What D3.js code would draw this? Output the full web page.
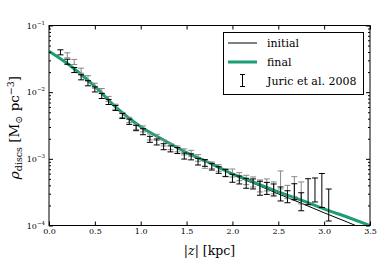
<!DOCTYPE html>
<html>
<head>
<meta charset="utf-8">
<script src="https://cdn.jsdelivr.net/npm/d3@7"></script>
<style>
  body { margin: 0; background: #fff; }
  svg { display: block; }
</style>
</head>
<body>
<div id="chart"></div>
<script>
// model curves (z in kpc, density in Msun pc^-3)
const curveZ = [0.0, 0.25, 0.5, 0.75, 1.0, 1.25, 1.5, 1.75, 2.0, 2.25, 2.5, 2.75, 3.0, 3.25, 3.5]
const finalRho = [0.0411, 0.0239, 0.0122, 0.00561, 0.00302, 0.00192, 0.00124, 0.000871, 0.000595, 0.000437, 0.000319, 0.000241, 0.000177, 0.000134, 0.0001]
const initialRho = [0.0411, 0.0239, 0.0122, 0.00561, 0.00302, 0.00192, 0.00124, 0.000868, 0.000582, 0.000417, 0.000298, 0.000216, 0.000155, 0.000113, 0.0000813]

// Juric et al. 2008 points, two interleaved sets
const juricZ = [0.125, 0.2, 0.275, 0.35, 0.425, 0.5, 0.575, 0.65, 0.725, 0.8, 0.875, 0.95, 1.025, 1.1, 1.175, 1.25, 1.325, 1.4, 1.475, 1.55, 1.625, 1.7, 1.775, 1.85, 1.925, 2.0, 2.075, 2.15, 2.225, 2.3, 2.375, 2.45, 2.525, 2.6, 2.675, 2.75, 2.825, 2.9, 2.975, 3.05]
const juricRhoA = [0.0396, 0.0286, 0.0215, 0.0167, 0.0136, 0.0110, 0.00877, 0.00713, 0.00579, 0.00440, 0.00360, 0.00290, 0.00255, 0.00196, 0.00179, 0.00152, 0.00141, 0.00133, 0.00110, 0.00107, 0.000906, 0.000867, 0.000762, 0.000680, 0.000613, 0.000511, 0.000482, 0.000430, 0.000420, 0.000362, 0.000360, 0.000341, 0.000297, 0.000270, 0.000321, 0.000227, 0.000321, 0.000341, 0.000335, 0.000203]
const juricErrA = [0.038, 0.038, 0.038, 0.038, 0.038, 0.038, 0.038, 0.038, 0.038, 0.038, 0.04, 0.04, 0.045, 0.045, 0.045, 0.045, 0.045, 0.045, 0.045, 0.045, 0.05, 0.05, 0.05, 0.05, 0.055, 0.06, 0.06, 0.075, 0.075, 0.105, 0.09, 0.09, 0.105, 0.09, 0.12, 0.135, 0.195, 0.18, 0.255, 0.24]
const juricZB = juricZ.slice(1, 36)
const juricRhoB = [0.0357, 0.0284, 0.0210, 0.0162, 0.0125, 0.0104, 0.00791, 0.00605, 0.00455, 0.00383, 0.00303, 0.00281, 0.00213, 0.00210, 0.00173, 0.00152, 0.00141, 0.00127, 0.00121, 0.00103, 0.000809, 0.000800, 0.000730, 0.000620, 0.000613, 0.000540, 0.000482, 0.000450, 0.000392, 0.000406, 0.000366, 0.000482, 0.000318, 0.000382, 0.000308]
const juricErrB = [0.038, 0.038, 0.038, 0.038, 0.038, 0.038, 0.038, 0.038, 0.038, 0.04, 0.04, 0.045, 0.045, 0.045, 0.045, 0.045, 0.045, 0.045, 0.045, 0.05, 0.05, 0.05, 0.05, 0.055, 0.06, 0.06, 0.07, 0.075, 0.09, 0.09, 0.09, 0.135, 0.1, 0.15, 0.165]

const xTicks = [0, 0.5, 1.0, 1.5, 2.0, 2.5, 3.0, 3.5]
const yTicks = [1e-4, 1e-3, 1e-2, 1e-1]
const yTickExp = ['−4', '−3', '−2', '−1']
const legendLabels = ['initial', 'final', 'Juric et al. 2008']

const width = 390, height = 260
const plot = { left: 49, right: 370, top: 25.5, bottom: 225.5 }
const green = '#1b9e77'
const serif = '"DejaVu Serif", "Liberation Serif", serif'

const svg = d3.select('#chart').append('svg')
    .attr('width', width)
    .attr('height', height)
    .attr('font-family', serif)

const x = d3.scaleLinear().domain([0, 3.5]).range([plot.left, plot.right])
const y = d3.scaleLog().domain([1e-4, 1e-1]).range([plot.bottom, plot.top])

svg.append('clipPath').attr('id', 'clip')
    .append('rect')
    .attr('x', plot.left).attr('y', plot.top)
    .attr('width', plot.right - plot.left).attr('height', plot.bottom - plot.top)

const g = svg.append('g').attr('clip-path', 'url(#clip)')

const line = d3.line().curve(d3.curveMonotoneX)

g.append('path')
    .attr('d', line(curveZ.map((z, i) => [x(z), y(initialRho[i])])))
    .attr('fill', 'none')
    .attr('stroke', '#000')
    .attr('stroke-width', 1)

g.append('path')
    .attr('d', line(curveZ.map((z, i) => [x(z), y(finalRho[i])])))
    .attr('fill', 'none')
    .attr('stroke', green)
    .attr('stroke-width', 3)

function errorBars(zs, rhos, errs, color) {
    const bars = g.append('g').attr('stroke', color).attr('stroke-width', 1)
    zs.forEach((z, i) => {
        const cx = x(z)
        const y0 = y(rhos[i] * Math.pow(10, errs[i]))
        const y1 = y(rhos[i] * Math.pow(10, -errs[i]))
        bars.append('line').attr('x1', cx).attr('x2', cx).attr('y1', y0).attr('y2', y1)
        bars.append('line').attr('x1', cx - 3).attr('x2', cx + 3).attr('y1', y0).attr('y2', y0)
        bars.append('line').attr('x1', cx - 3).attr('x2', cx + 3).attr('y1', y1).attr('y2', y1)
    })
}
errorBars(juricZB, juricRhoB, juricErrB, '#888')
errorBars(juricZ, juricRhoA, juricErrA, '#000')

// axes, classic inward ticks on all sides
const yMinor = []
for (let e = -4; e < -1; e++) for (let m = 2; m <= 9; m++) yMinor.push(m * Math.pow(10, e))

function cleanAxis(sel) {
    sel.attr('font-family', serif)
    sel.select('.domain').remove()
    sel.selectAll('.tick line').attr('stroke', '#000')
    sel.selectAll('.tick text').attr('font-size', 8).attr('fill', '#000')
}

svg.append('g').attr('transform', `translate(0,${plot.bottom})`)
    .call(d3.axisBottom(x).tickValues(xTicks).tickSize(-4).tickPadding(3).tickFormat(d3.format('.1f')))
    .call(cleanAxis)
svg.append('g').attr('transform', `translate(0,${plot.top})`)
    .call(d3.axisTop(x).tickValues(xTicks).tickSize(-4).tickFormat(''))
    .call(cleanAxis)
svg.append('g').attr('transform', `translate(${plot.left},0)`)
    .call(d3.axisLeft(y).tickValues(yTicks).tickSize(-4).tickFormat(''))
    .call(cleanAxis)
svg.append('g').attr('transform', `translate(${plot.left},0)`)
    .call(d3.axisLeft(y).tickValues(yMinor).tickSize(-2).tickFormat(''))
    .call(cleanAxis)
svg.append('g').attr('transform', `translate(${plot.right},0)`)
    .call(d3.axisRight(y).tickValues(yTicks).tickSize(-4).tickFormat(''))
    .call(cleanAxis)
svg.append('g').attr('transform', `translate(${plot.right},0)`)
    .call(d3.axisRight(y).tickValues(yMinor).tickSize(-2).tickFormat(''))
    .call(cleanAxis)

yTicks.forEach((t, i) => {
    const lab = svg.append('text')
        .attr('x', plot.left - 4)
        .attr('y', y(t) + 3)
        .attr('text-anchor', 'end')
        .attr('font-size', 8)
    lab.append('tspan').text('10')
    lab.append('tspan').attr('font-size', 5.5).attr('dy', -4).text(yTickExp[i])
})

svg.append('rect')
    .attr('x', plot.left).attr('y', plot.top)
    .attr('width', plot.right - plot.left).attr('height', plot.bottom - plot.top)
    .attr('fill', 'none').attr('stroke', '#000').attr('stroke-width', 1)

// axis labels
const xl = svg.append('text')
    .attr('x', (plot.left + plot.right) / 2)
    .attr('y', 255)
    .attr('text-anchor', 'middle')
    .attr('font-size', 12.5)
xl.append('tspan').text('|')
xl.append('tspan').attr('font-style', 'italic').text('z')
xl.append('tspan').text('| [kpc]')

const yl = svg.append('text')
    .attr('transform', `translate(19,${(plot.top + plot.bottom) / 2 + 2}) rotate(-90)`)
    .attr('text-anchor', 'middle')
    .attr('font-size', 13.5)
yl.append('tspan').attr('font-style', 'italic').text('ρ')
yl.append('tspan').attr('font-size', 9.5).attr('dy', 3).text('discs')
yl.append('tspan').attr('dy', -3).text(' [M')
yl.append('tspan').attr('font-size', 9.5).attr('dy', 3).text('⊙')
yl.append('tspan').attr('dy', -3).text(' pc')
yl.append('tspan').attr('font-size', 9.5).attr('dy', -5).text('−3')
yl.append('tspan').attr('dy', 5).text(']')

// legend
const lg = svg.append('g')
lg.append('rect')
    .attr('x', 223.5).attr('y', 32.5).attr('width', 140).attr('height', 62)
    .attr('fill', '#fff').attr('stroke', '#000').attr('stroke-width', 1)
const rowY = [43, 62, 80.5]
lg.append('line').attr('x1', 228).attr('x2', 257).attr('y1', rowY[0]).attr('y2', rowY[0])
    .attr('stroke', '#000').attr('stroke-width', 1)
lg.append('line').attr('x1', 228).attr('x2', 257).attr('y1', rowY[1]).attr('y2', rowY[1])
    .attr('stroke', green).attr('stroke-width', 3)
const lx = 242.5
lg.append('line').attr('x1', lx).attr('x2', lx).attr('y1', rowY[2] - 6).attr('y2', rowY[2] + 6).attr('stroke', '#000')
lg.append('line').attr('x1', lx - 2.5).attr('x2', lx + 2.5).attr('y1', rowY[2] - 6).attr('y2', rowY[2] - 6).attr('stroke', '#000')
lg.append('line').attr('x1', lx - 2.5).attr('x2', lx + 2.5).attr('y1', rowY[2] + 6).attr('y2', rowY[2] + 6).attr('stroke', '#000')
legendLabels.forEach((t, i) => {
    lg.append('text')
        .attr('x', 267)
        .attr('y', rowY[i] + 4)
        .attr('font-size', 11)
        .text(t)
})
</script>
</body>
</html>
